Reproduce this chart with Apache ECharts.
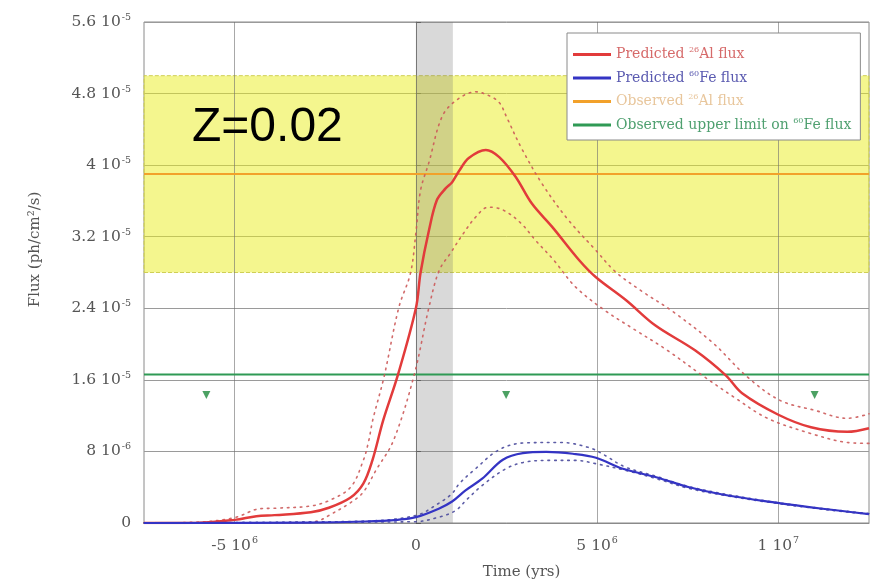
<!DOCTYPE html>
<html><head><meta charset="utf-8">
<script src="https://cdn.jsdelivr.net/npm/echarts@6/dist/echarts.min.js"></script>
<style>html,body{margin:0;padding:0;background:#fff}#c{width:874px;height:585px}</style>
</head><body><div id="c"></div>
<script>
// ---- data (time in years, flux in ph/cm^2/s) ----
const alPredTime = [-7.5e6,-6.0e6,-5.0e6,-4.4e6,-3.9e6,-2.9e6,-2.4e6,-1.8e6,-1.45e6,-1.2e6,-0.9e6,-0.5e6,0,0.13e6,0.36e6,0.58e6,0.82e6,1.0e6,1.2e6,1.46e6,1.93e6,2.3e6,2.75e6,3.2e6,3.76e6,4.5e6,4.96e6,5.8e6,6.6e6,7.7e6,8.55e6,9.0e6,10.0e6,10.9e6,11.9e6,12.5e6];
const alPredFlux = [0,0.02e-6,0.35e-6,0.75e-6,0.88e-6,1.2e-6,1.7e-6,2.85e-6,4.4e-6,7.0e-6,11.5e-6,16.5e-6,24.0e-6,28.0e-6,32.7e-6,36.1e-6,37.4e-6,38.1e-6,39.4e-6,40.8e-6,41.7e-6,40.9e-6,38.7e-6,35.7e-6,33.1e-6,29.4e-6,27.5e-6,24.9e-6,22.1e-6,19.3e-6,16.5e-6,14.5e-6,12.1e-6,10.7e-6,10.2e-6,10.6e-6];

const alUpperTime = [-7.5e6,-6.0e6,-5.0e6,-4.3e6,-3.9e6,-2.9e6,-2.4e6,-1.8e6,-1.45e6,-1.3e6,-1.19e6,-0.88e6,-0.47e6,-0.15e6,0,0.13e6,0.36e6,0.72e6,1.1e6,1.65e6,2.0e6,2.3e6,2.5e6,2.9e6,3.5e6,4.2e6,4.96e6,5.5e6,6.2e6,7.1e6,8.2e6,9.15e6,10.05e6,11.0e6,11.9e6,12.5e6];
const alUpperFlux = [0,0.1e-6,0.6e-6,1.6e-6,1.65e-6,1.9e-6,2.5e-6,4.0e-6,7.0e-6,9.2e-6,11.5e-6,16.3e-6,24.1e-6,27.9e-6,32.4e-6,37.2e-6,40.3e-6,45.4e-6,47.2e-6,48.2e-6,47.8e-6,47.0e-6,45.4e-6,42.0e-6,37.8e-6,33.9e-6,30.5e-6,28.1e-6,26.0e-6,23.6e-6,20.1e-6,16.3e-6,13.7e-6,12.6e-6,11.7e-6,12.2e-6];

const alLowerTime = [-7.5e6,-3.0e6,-2.65e6,-2.4e6,-1.83e6,-1.46e6,-1.1e6,-0.62e6,-0.05e6,0.36e6,0.64e6,0.96e6,1.3e6,1.65e6,2.0e6,2.4e6,2.9e6,3.3e6,3.8e6,4.4e6,5.2e6,6.0e6,6.9e6,7.9e6,8.8e6,9.7e6,10.9e6,11.9e6,12.5e6];
const alLowerFlux = [0,0.05e-6,0.3e-6,0.84e-6,2.2e-6,3.4e-6,5.9e-6,9.2e-6,16.5e-6,24.1e-6,28.2e-6,30.2e-6,32.3e-6,34.2e-6,35.3e-6,35.0e-6,33.5e-6,31.6e-6,29.4e-6,26.4e-6,23.8e-6,21.7e-6,19.4e-6,16.5e-6,14.0e-6,11.7e-6,10.0e-6,9.0e-6,8.9e-6];

const fePredTime = [-7.5e6,-3.0e6,-1.4e6,-0.5e6,0,0.63e6,1.0e6,1.37e6,1.83e6,2.4e6,2.95e6,3.6e6,4.33e6,4.97e6,5.71e6,6.63e6,7.54e6,8.46e6,9.84e6,11.22e6,12.5e6];
const fePredFlux = [0,0.05e-6,0.17e-6,0.36e-6,0.65e-6,1.6e-6,2.4e-6,3.64e-6,4.95e-6,7.07e-6,7.81e-6,7.95e-6,7.74e-6,7.3e-6,6.06e-6,5.12e-6,4.0e-6,3.19e-6,2.33e-6,1.59e-6,1.0e-6];

const feUpperTime = [-7.5e6,-1.5e6,0,0.63e6,1.0e6,1.2e6,1.6e6,2.3e6,3.0e6,4.0e6,4.8e6,5.2e6,5.75e6,6.6e6,7.5e6,8.5e6,9.8e6,11.2e6,12.5e6];
const feUpperFlux = [0,0.2e-6,0.84e-6,2.2e-6,3.3e-6,4.4e-6,5.9e-6,8.2e-6,8.95e-6,9.0e-6,8.4e-6,7.6e-6,6.3e-6,5.25e-6,4.1e-6,3.25e-6,2.38e-6,1.62e-6,1.05e-6];

const feLowerTime = [-7.5e6,-1.5e6,0,0.63e6,1.1e6,1.4e6,1.83e6,2.48e6,3.0e6,3.7e6,4.4e6,5.0e6,5.8e6,6.6e6,7.5e6,8.5e6,9.8e6,11.2e6,12.5e6];
const feLowerFlux = [0,0.1e-6,0.15e-6,0.65e-6,1.4e-6,2.6e-6,4.2e-6,6.06e-6,6.8e-6,7.0e-6,7.0e-6,6.6e-6,5.87e-6,5.0e-6,3.9e-6,3.1e-6,2.28e-6,1.55e-6,0.97e-6];

const alObservedFlux = 3.9e-5;
const alObservedRange = [2.8e-5, 5.0e-5];
const feUpperLimitFlux = 1.66e-5;
const feLimitMarkerTimes = [-5.78e6, 2.49e6, 1.1e7];
const feLimitMarkerFlux = [1.43e-5, 1.43e-5, 1.43e-5];
const supernovaWindow = [0, 1.02e6];

const xRange = [-7.5e6, 1.25e7];
const yRange = [0, 5.6e-5];
const yInterval = 8e-6;
const xTickValues = [-5e6, 0, 5e6, 1e7];
const xTickMantissa = ['-5 10', '0', '5 10', '1 10'];
const xTickExponent = ['6', '', '6', '7'];
const yTickValues = [0, 8e-6, 1.6e-5, 2.4e-5, 3.2e-5, 4e-5, 4.8e-5, 5.6e-5];
const yTickMantissa = ['0', '8 10', '1.6 10', '2.4 10', '3.2 10', '4 10', '4.8 10', '5.6 10'];
const yTickExponent = ['', '-6', '-5', '-5', '-5', '-5', '-5', '-5'];

const legendNames = ['Predicted 26Al flux', 'Predicted 60Fe flux', 'Observed 26Al flux', 'Observed upper limit on 60Fe flux'];
const legendRich = [
  '{n|Predicted }{s|26}{n|Al flux}',
  '{n|Predicted }{s|60}{n|Fe flux}',
  '{n|Observed }{s|26}{n|Al flux}',
  '{n|Observed upper limit on }{s|60}{n|Fe flux}'
];
const annotationText = 'Z=0.02';

// ---- helpers ----
const zip = (ts, vs) => ts.map((t, i) => [t, vs[i]]);
const SERIF = '"DejaVu Serif", "Liberation Serif", serif';
const TXT = '#555';
const RED = '#e23b3b', RED_DOT = '#cc5a5a';
const BLUE = '#3434c4', BLUE_DOT = '#4a4a9c';
const ORANGE = '#f2a12a', GREEN = '#2f9a55';

const chart = echarts.init(document.getElementById('c'), null, {renderer: 'canvas'});

const supRich = {
  m: {fontSize: 15.5, fontFamily: SERIF, color: TXT, lineHeight: 19},
  e: {fontSize: 9.5, fontFamily: SERIF, color: TXT, verticalAlign: 'top', lineHeight: 19, padding: [0, 0, 0, 1]}
};

function tickLabel(mant, exp) {
  return exp ? '{m|' + mant + '}{e|' + exp + '}' : '{m|' + mant + '}';
}

const lineBase = {type: 'line', showSymbol: false, symbol: 'none', smooth: 0.35, animation: false, silent: true};

const option = {
  animation: false,
  grid: {left: 144, right: 5, top: 22, bottom: 62, show: true, borderColor: '#8a8a8a', borderWidth: 1, backgroundColor: 'transparent'},
  xAxis: {
    type: 'value', min: xRange[0], max: xRange[1],
    name: 'Time (yrs)', nameLocation: 'middle', nameGap: 42,
    nameTextStyle: {fontFamily: SERIF, fontSize: 15, color: TXT, padding: [0, 0, 0, 30]},
    axisLine: {show: true, lineStyle: {color: '#8a8a8a'}},
    axisTick: {show: false},
    splitLine: {show: false},
    axisLabel: {
      customValues: xTickValues, margin: 13,
      formatter: v => { const i = xTickValues.findIndex(t => Math.abs(t - v) < 1); return i < 0 ? '' : tickLabel(xTickMantissa[i], xTickExponent[i]); },
      rich: supRich
    }
  },
  yAxis: {
    type: 'value', min: yRange[0], max: yRange[1], interval: yInterval,
    name: 'Flux (ph/cm²/s)', nameLocation: 'middle', nameGap: 101,
    nameTextStyle: {fontFamily: SERIF, fontSize: 15, color: TXT, padding: [0, 0, 0, 46]},
    axisLine: {show: true, lineStyle: {color: '#8a8a8a'}},
    axisTick: {show: true, inside: true, length: 5, lineStyle: {color: '#555'}},
    splitLine: {show: true, lineStyle: {color: '#9a9a9a', width: 1}},
    axisLabel: {
      margin: 13,
      formatter: v => { const i = yTickValues.findIndex(t => Math.abs(t - v) < 1e-9); return i < 0 ? '' : tickLabel(yTickMantissa[i], yTickExponent[i]); },
      rich: supRich
    }
  },
  legend: {
    orient: 'vertical', left: 567, top: 33,
    padding: [13, 9, 8, 6], itemGap: 8,
    itemWidth: 38, itemHeight: 3, icon: 'rect',
    backgroundColor: '#fff', borderColor: '#8a8a8a', borderWidth: 1,
    selectedMode: false,
    data: [
      {name: legendNames[0], textStyle: {color: '#d66a6a'}},
      {name: legendNames[1], textStyle: {color: '#5a5ab0'}},
      {name: legendNames[2], textStyle: {color: '#e8c69c'}},
      {name: legendNames[3], textStyle: {color: '#4fa070'}}
    ],
    formatter: name => legendRich[legendNames.indexOf(name)],
    textStyle: {
      fontFamily: SERIF, fontSize: 14,
      rich: {
        n: {fontSize: 14, fontFamily: SERIF, lineHeight: 17},
        s: {fontSize: 8, fontFamily: SERIF, verticalAlign: 'top', lineHeight: 17}
      }
    }
  },
  graphic: [{
    type: 'text', left: 192, top: 104, z: 20,
    style: {text: annotationText, fontFamily: '"Liberation Sans", Arial, sans-serif', fontSize: 48, fill: '#000'}
  }],
  series: [
    Object.assign({}, lineBase, {
      name: legendNames[2], smooth: false,
      data: [[xRange[0], alObservedFlux], [xRange[1], alObservedFlux]],
      lineStyle: {color: ORANGE, width: 2}, itemStyle: {color: ORANGE},
      markArea: {
        z: 1, silent: true,
        itemStyle: {color: 'rgba(234,238,30,0.5)', borderColor: '#cfcf55', borderWidth: 1, borderType: 'dashed'},
        data: [[{yAxis: alObservedRange[0]}, {yAxis: alObservedRange[1]}]]
      }
    }),
    Object.assign({}, lineBase, {
      name: legendNames[3], smooth: false,
      data: [[xRange[0], feUpperLimitFlux], [xRange[1], feUpperLimitFlux]],
      lineStyle: {color: GREEN, width: 2}, itemStyle: {color: GREEN},
      markArea: {
        z: 1.2, silent: true,
        itemStyle: {color: 'rgba(120,120,120,0.28)'},
        data: [[{xAxis: supernovaWindow[0]}, {xAxis: supernovaWindow[1]}]]
      },
      markLine: {
        z: 1.5, silent: true, symbol: ['none', 'none'], animation: false,
        label: {show: false},
        lineStyle: {color: 'rgba(110,110,110,0.6)', width: 1, type: 'solid'},
        data: xTickValues.map(v => ({xAxis: v}))
      }
    }),
    {
      type: 'scatter', name: 'upper limit markers', silent: true,
      data: zip(feLimitMarkerTimes, feLimitMarkerFlux),
      symbol: 'triangle', symbolRotate: 180, symbolSize: [8, 8],
      itemStyle: {color: '#1f8a3c'}, z: 3
    },
    Object.assign({}, lineBase, {
      name: 'Al upper', data: zip(alUpperTime, alUpperFlux),
      lineStyle: {color: RED_DOT, width: 1.6, type: [1.6, 5], cap: 'round', opacity: 0.9}
    }),
    Object.assign({}, lineBase, {
      name: 'Al lower', data: zip(alLowerTime, alLowerFlux),
      lineStyle: {color: RED_DOT, width: 1.6, type: [1.6, 5], cap: 'round', opacity: 0.9}
    }),
    Object.assign({}, lineBase, {
      name: 'Fe upper', data: zip(feUpperTime, feUpperFlux),
      lineStyle: {color: BLUE_DOT, width: 1.6, type: [1.6, 5], cap: 'round', opacity: 0.9}
    }),
    Object.assign({}, lineBase, {
      name: 'Fe lower', data: zip(feLowerTime, feLowerFlux),
      lineStyle: {color: BLUE_DOT, width: 1.6, type: [1.6, 5], cap: 'round', opacity: 0.9}
    }),
    Object.assign({}, lineBase, {
      name: legendNames[0], data: zip(alPredTime, alPredFlux),
      lineStyle: {color: RED, width: 2.5}, itemStyle: {color: RED}
    }),
    Object.assign({}, lineBase, {
      name: legendNames[1], data: zip(fePredTime, fePredFlux),
      lineStyle: {color: BLUE, width: 2.2}, itemStyle: {color: BLUE}
    })
  ]
};
chart.setOption(option);
</script>
</body></html>
